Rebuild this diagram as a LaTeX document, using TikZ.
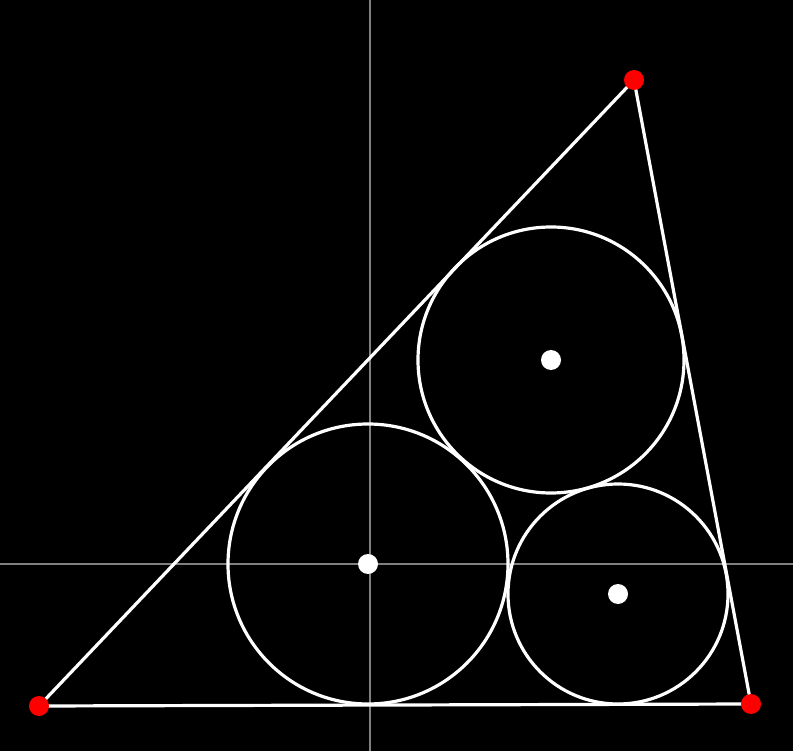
\documentclass[tikz,border=0pt]{standalone}
\begin{document}
\begin{tikzpicture}[x=1pt,y=-1pt,
  axisline/.style={draw=gray, line width=2.4pt},
  edge/.style={draw=white, line width=3.2pt},
  ring/.style={draw=white, line width=3.2pt},
  vertex/.style={circle, fill=red, inner sep=0pt, minimum size=20pt},
  centerdot/.style={circle, fill=white, inner sep=0pt, minimum size=20pt}]
\fill[black] (0,0) rectangle (793,751);
\useasboundingbox (0,0) rectangle (793,751);
\coordinate (xl) at (0,564);
\coordinate (xr) at (793,564);
\coordinate (yt) at (370,0);
\coordinate (yb) at (370,751);
\draw[axisline] (xl) -- (xr);
\draw[axisline] (yt) -- (yb);
\coordinate (A) at (39,706);
\coordinate (B) at (634,80);
\coordinate (C) at (751,704);
\coordinate (O1) at (368,564);
\coordinate (O2) at (551,360);
\coordinate (O3) at (618,594);
\draw[ring] (O1) circle (140);
\draw[ring] (O2) circle (133);
\draw[ring] (O3) circle (110);
\draw[edge] (A) -- (B) -- (C) -- cycle;
\node[vertex] (a) at (A) {};
\node[vertex] (b) at (B) {};
\node[vertex] (c) at (C) {};
\node[centerdot] (o1) at (O1) {};
\node[centerdot] (o2) at (O2) {};
\node[centerdot] (o3) at (O3) {};
\end{tikzpicture}
\end{document}
